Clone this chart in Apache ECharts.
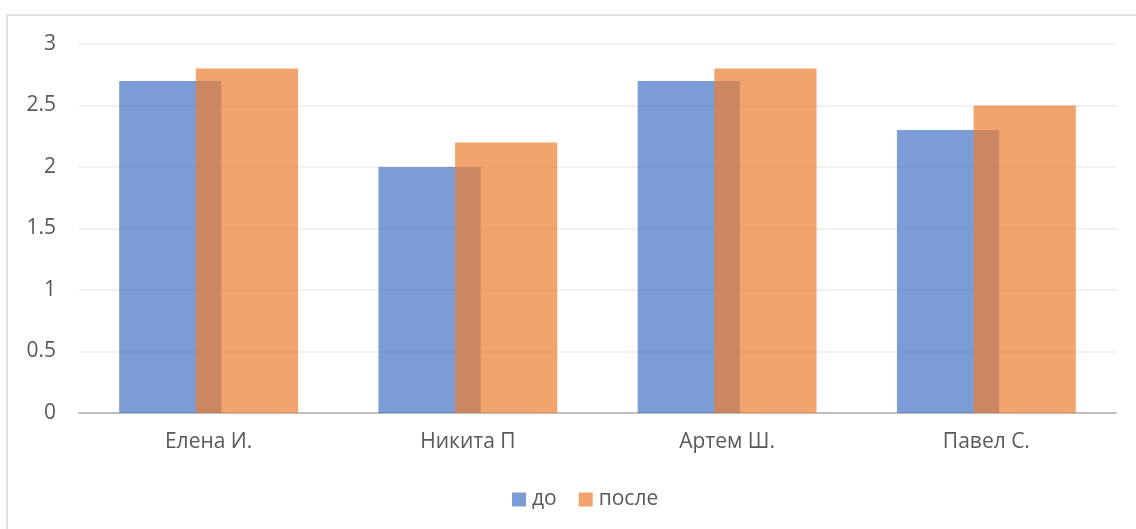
<!DOCTYPE html>
<html>
<head>
<meta charset="utf-8">
<script src="https://cdn.jsdelivr.net/npm/echarts@6/dist/echarts.min.js"></script>
<style>
html, body { margin: 0; padding: 0; background: #fff; }
#chart { width: 1136px; height: 529px; }
</style>
</head>
<body>
<div id="chart"></div>
<script>
// Participants and their scores before / after
const categories = ['Елена И.', 'Никита П', 'Артем Ш.', 'Павел С.'];
const before = [2.7, 2.0, 2.7, 2.3];
const after = [2.8, 2.2, 2.8, 2.5];
const seriesNames = ['до', 'после'];

const FONT = '"Open Sans", "Noto Sans", sans-serif';
const TEXT = '#595959';

const chart = echarts.init(document.getElementById('chart'), null, { renderer: 'canvas' });
chart.setOption({
  animation: false,
  backgroundColor: '#fff',
  graphic: [{
    type: 'rect',
    shape: { x: 7, y: 15, width: 1140, height: 530 },
    style: { fill: 'none', stroke: '#d9d9d9', lineWidth: 1.5 },
    silent: true
  }],
  grid: { left: 79, right: 20, top: 44, bottom: 116 },
  legend: {
    data: seriesNames,
    top: 484,
    left: 507,
    itemWidth: 14,
    itemHeight: 14,
    itemGap: 22,
    icon: 'rect',
    textStyle: { color: TEXT, fontSize: 21, fontFamily: FONT, padding: [0, 0, 0, 1] }
  },
  xAxis: {
    type: 'category',
    data: categories,
    axisTick: { show: false },
    axisLine: { lineStyle: { color: '#bfbfbf', width: 2 } },
    axisLabel: { color: TEXT, fontSize: 21, fontFamily: FONT, margin: 19 }
  },
  yAxis: {
    type: 'value',
    min: 0,
    max: 3,
    interval: 0.5,
    axisLine: { show: false },
    axisTick: { show: false },
    splitLine: { lineStyle: { color: '#ededed', width: 1.5 } },
    axisLabel: { color: TEXT, fontSize: 21, fontFamily: FONT, margin: 23 }
  },
  series: [
    {
      name: seriesNames[0],
      type: 'bar',
      data: before,
      barGap: '-25%',
      barCategoryGap: '31%',
      itemStyle: { color: '#4472C4', opacity: 0.7 }
    },
    {
      name: seriesNames[1],
      type: 'bar',
      data: after,
      itemStyle: { color: '#ED7D31', opacity: 0.7 }
    }
  ]
});
</script>
</body>
</html>
